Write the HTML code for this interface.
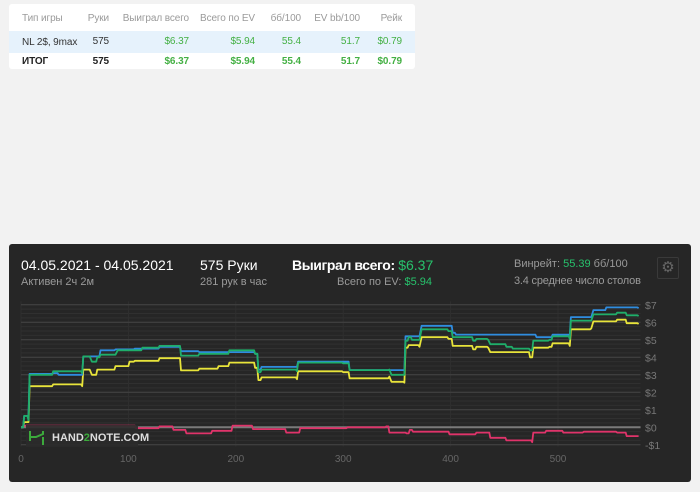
<!DOCTYPE html>
<html><head><meta charset="utf-8">
<style>
*{box-sizing:border-box;margin:0;padding:0}
body{width:700px;height:492px;background:#f2f2f2;font-family:"Liberation Sans",sans-serif;position:relative;overflow:hidden}
.tbl{position:absolute;left:9px;top:4px;width:406px;height:65px;background:#fff;border-radius:3px}
.row{position:absolute;left:0;width:406px;height:22px;font-size:10px;letter-spacing:-0.1px}
.row span{position:absolute;top:5px}
.g{color:#44b044}
.card{position:absolute;left:9px;top:244px;width:682px;height:238px;background:#262626;border-radius:3px;color:#fff}
.t{position:absolute;white-space:nowrap}
.grey{color:#9a9a9a}
.gr{color:#27c26c}
</style></head><body>
<div class="tbl">
 <div class="row" style="top:4px;color:#9a9a9a">
  <span style="left:13px">Тип игры</span>
  <span style="right:306px">Руки</span>
  <span style="right:226px">Выиграл всего</span>
  <span style="right:160px">Всего по EV</span>
  <span style="right:114px">бб/100</span>
  <span style="right:55px">EV bb/100</span>
  <span style="right:13px">Рейк</span>
 </div>
 <div class="row" style="top:27px;background:#e6f2fc;color:#333">
  <span style="left:13px;top:6px">NL 2$, 9max</span>
  <span style="right:306px">575</span>
  <span class="g" style="right:226px">$6.37</span>
  <span class="g" style="right:160px">$5.94</span>
  <span class="g" style="right:114px">55.4</span>
  <span class="g" style="right:55px">51.7</span>
  <span class="g" style="right:13px">$0.79</span>
 </div>
 <div class="row" style="top:47px;font-weight:bold;color:#222">
  <span style="left:13px">ИТОГ</span>
  <span style="right:306px">575</span>
  <span class="g" style="right:226px">$6.37</span>
  <span class="g" style="right:160px">$5.94</span>
  <span class="g" style="right:114px">55.4</span>
  <span class="g" style="right:55px">51.7</span>
  <span class="g" style="right:13px">$0.79</span>
 </div>
</div>
<div class="card">
 <div class="t" style="left:12px;top:13px;font-size:14px">04.05.2021 - 04.05.2021</div>
 <div class="t grey" style="left:12px;top:32px;font-size:11px">Активен 2ч 2м</div>
 <div class="t" style="left:191px;top:13px;font-size:14px">575 Руки</div>
 <div class="t grey" style="left:191px;top:32px;font-size:11px">281 рук в час</div>
 <div class="t" style="left:283px;top:13px;font-size:14px;font-weight:bold;letter-spacing:-0.4px">Выиграл всего: <span class="gr" style="font-weight:normal;letter-spacing:0">$6.37</span></div>
 <div class="t grey" style="right:259px;top:32px;font-size:11px">Всего по EV: <span class="gr">$5.94</span></div>
 <div class="t grey" style="left:505px;top:14px;font-size:11px">Винрейт: <span class="gr">55.39</span> бб/100</div>
 <div class="t grey" style="left:505px;top:31px;font-size:11px;letter-spacing:-0.2px">3.4 среднее число столов</div>
 <div class="t" style="left:648px;top:13px;width:22px;height:22px;border:1px solid #3a3a3a;border-radius:2px;color:#666;font-size:15px;text-align:center;line-height:20px">⚙</div>
</div>
<svg id="chart" style="position:absolute;left:0;top:0" width="700" height="492"></svg>
<script>
const blueH=[0,3,7,8,30,35,57,58,71,74,88,106,129,149,166,194,218,221,224,257,258,300,306,343,357,358,371,373,398,402,405,474,480,492,495,511,512,531,533,544,545,575];
const blueV=[0,0.65,0.65,3.05,3.1,3.0,3.0,4.05,4.05,4.4,4.45,4.5,4.6,4.35,4.3,4.3,4.2,3.3,3.45,3.45,3.75,3.75,3.27,3.27,3.25,5.2,5.2,5.8,5.8,5.4,5.3,5.3,5.15,5.15,5.3,5.3,6.3,6.3,6.7,6.7,6.85,6.8];
const greenH=[0,3,7,8,30,57,58,64,66,71,74,88,90,106,113,129,149,163,166,194,218,221,224,257,258,300,306,343,345,357,358,361,364,371,373,398,402,421,424,435,437,452,458,474,477,492,495,511,512,531,533,555,564,575];
const greenV=[0,0.65,0.4,3.0,3.2,3.1,4.05,4.05,3.75,4.0,4.15,4.15,4.4,4.4,4.55,4.65,4.1,4.1,4.2,4.4,4.2,3.15,3.3,3.2,3.7,3.65,3.27,3.3,3.0,3.0,4.95,5.15,5.0,5.0,5.6,5.5,5.15,4.95,5.05,5.0,4.75,4.6,4.5,4.4,4.95,5.0,5.2,5.05,6.1,6.1,6.45,6.55,6.4,6.35];
const yellowH=[0,3,7,8,30,57,58,64,66,71,88,101,106,129,149,166,184,194,218,221,224,257,258,300,306,343,345,357,358,361,371,373,398,402,421,424,435,437,474,477,492,495,511,512,531,533,555,564,575];
const yellowV=[0,0.3,0.3,2.35,2.45,2.35,3.3,3.3,3.0,3.3,3.5,3.75,3.8,3.95,3.25,3.35,3.5,3.7,3.4,2.7,2.85,2.75,3.2,3.15,2.8,2.9,2.6,2.55,4.55,4.7,4.6,5.15,5.05,4.65,4.45,4.6,4.55,4.3,4.0,4.55,4.6,4.8,4.65,5.6,5.65,6.05,6.15,5.95,5.9];
const pinkH=[0,3,107,129,142,154,166,178,197,216,244,247,259,260,304,340,343,359,362,365,399,421,424,434,437,452,476,477,489,499,505,524,555,564,575];
const pinkV=[0,0.1,-0.05,0.05,-0.15,-0.35,-0.35,-0.2,0.1,-0.1,-0.1,-0.3,-0.3,-0.05,0,0.05,-0.3,-0.35,-0.15,-0.25,-0.4,-0.4,-0.3,-0.3,-0.6,-0.75,-0.85,-0.3,-0.2,-0.2,-0.3,-0.25,-0.3,-0.5,-0.5];
const yTicks=[-1,0,1,2,3,4,5,6,7];
const yLabels=["-$1","$0","$1","$2","$3","$4","$5","$6","$7"];
const xTicks=[0,100,200,300,400,500];

const NS="http://www.w3.org/2000/svg";
const svg=document.getElementById('chart');
const X=h=>21+h*1.074;
const Y=v=>427.3-v*17.5;
function mk(tag,attrs){const e=document.createElementNS(NS,tag);for(const k in attrs)e.setAttribute(k,attrs[k]);svg.appendChild(e);return e;}
for(let v=-1;v<=7.001;v+=0.25){
 const l=mk('line',{x1:X(0),x2:X(575)+2,y1:Y(v),y2:Y(v),stroke:'#303030',"stroke-width":1});
 
 
}
xTicks.forEach(t=>{
 const l=mk('line',{x1:X(t),x2:X(t),y1:Y(7.2),y2:Y(-1.1),stroke:'#2f2f2f'});
 
 
 const tx=mk('text',{x:X(t),y:462,fill:'#666','font-size':10,'text-anchor':'middle','font-family':'Liberation Sans, sans-serif'});
 tx.textContent=t;
 
 
});
yTicks.forEach((t,i)=>{
 const l=mk('line',{x1:X(0),x2:X(575)+2,y1:Y(t),y2:Y(t),stroke:t===0?'#7a7a7a':'#444','stroke-width':t===0?2:1});
 
 
 const tx=mk('text',{x:645,y:Y(t)+4,fill:'#777','font-size':10.5,'font-family':'Liberation Sans, sans-serif'});
 tx.textContent=yLabels[i];
 
 
});
function series(H,V,color,name){
 let d='M'+X(H[0]).toFixed(1)+','+Y(V[0]).toFixed(1);
 for(let i=1;i<H.length;i++){
  const dh=H[i]-H[i-1];
  if(dh<=2){d+='L'+X(H[i]).toFixed(1)+','+Y(V[i]).toFixed(1);}
  else{d+='H'+X(H[i]-1).toFixed(1)+'L'+X(H[i]).toFixed(1)+','+Y(V[i]).toFixed(1);}
 }
 const p=mk('path',{d:d,fill:'none',stroke:color,'stroke-width':1.8,'stroke-linejoin':'round'});
 
 
}
series(pinkH,pinkV,'#e0336a','rake-line');
series(yellowH,yellowV,'#e8e43a','won-without-rake-line');
series(blueH,blueV,'#2f8de0','total-won-line');
series(greenH,greenV,'#1fae6a','ev-line');
const lg=mk('rect',{x:26,y:425,width:112,height:22,fill:'#2b2b2b',opacity:0.9});


const lp=mk('path',{d:'M30 431 v10 M30 437 h6 l7 -3 v-3 M43 437 v8',stroke:'#3caa3c','stroke-width':2,fill:'none'});


const lt=mk('text',{x:52,y:441,fill:'#ddd','font-size':11,'font-weight':'bold','font-family':'Liberation Sans, sans-serif'});
lt.innerHTML='HAND<tspan fill="#3caa3c">2</tspan>NOTE.COM';


</script>
</body></html>
